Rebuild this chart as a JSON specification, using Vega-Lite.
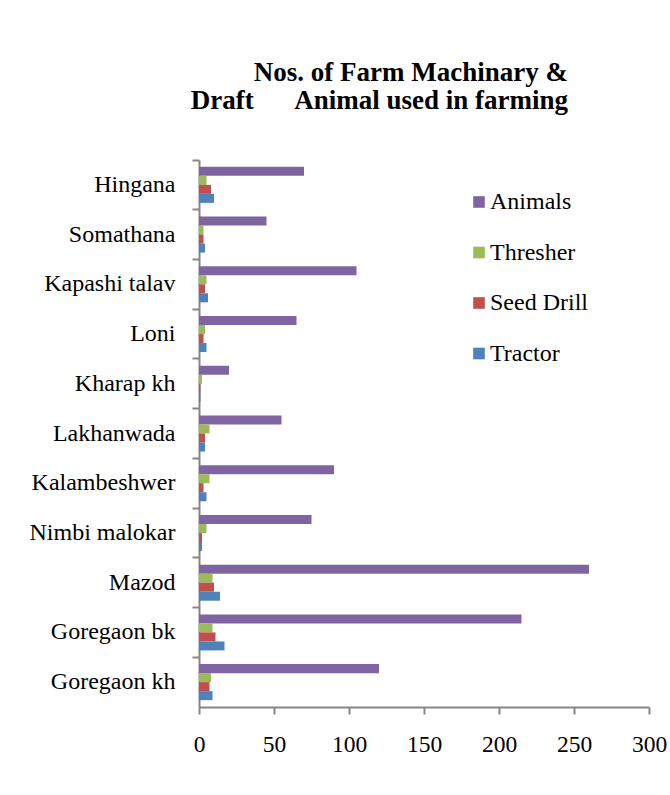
{
  "$schema": "https://vega.github.io/schema/vega-lite/v6.json",
  "autosize": {"type": "none"},
  "width": 450,
  "height": 547,
  "padding": {"left": 199, "top": 160, "right": 21, "bottom": 88},
  "background": "white",
  "title": {
    "text": ["Nos. of Farm Machinary &", "Draft\u00a0\u00a0\u00a0\u00a0\u00a0\u00a0Animal used in farming"],
    "font": "Liberation Serif",
    "fontSize": 27,
    "fontWeight": "bold",
    "color": "black",
    "anchor": "end",
    "align": "right",
    "frame": "group",
    "dx": -81,
    "offset": 44,
    "lineHeight": 28
  },
  "data": {
    "values": [
      {"village": "Hingana", "type": "Animals", "count": 70},
      {"village": "Hingana", "type": "Thresher", "count": 5},
      {"village": "Hingana", "type": "Seed Drill", "count": 8},
      {"village": "Hingana", "type": "Tractor", "count": 10},
      {"village": "Somathana", "type": "Animals", "count": 45},
      {"village": "Somathana", "type": "Thresher", "count": 3},
      {"village": "Somathana", "type": "Seed Drill", "count": 3},
      {"village": "Somathana", "type": "Tractor", "count": 4},
      {"village": "Kapashi talav", "type": "Animals", "count": 105},
      {"village": "Kapashi talav", "type": "Thresher", "count": 5},
      {"village": "Kapashi talav", "type": "Seed Drill", "count": 4},
      {"village": "Kapashi talav", "type": "Tractor", "count": 6},
      {"village": "Loni", "type": "Animals", "count": 65},
      {"village": "Loni", "type": "Thresher", "count": 4},
      {"village": "Loni", "type": "Seed Drill", "count": 3},
      {"village": "Loni", "type": "Tractor", "count": 5},
      {"village": "Kharap kh", "type": "Animals", "count": 20},
      {"village": "Kharap kh", "type": "Thresher", "count": 2},
      {"village": "Kharap kh", "type": "Seed Drill", "count": 1},
      {"village": "Kharap kh", "type": "Tractor", "count": 1},
      {"village": "Lakhanwada", "type": "Animals", "count": 55},
      {"village": "Lakhanwada", "type": "Thresher", "count": 7},
      {"village": "Lakhanwada", "type": "Seed Drill", "count": 4},
      {"village": "Lakhanwada", "type": "Tractor", "count": 4},
      {"village": "Kalambeshwer", "type": "Animals", "count": 90},
      {"village": "Kalambeshwer", "type": "Thresher", "count": 7},
      {"village": "Kalambeshwer", "type": "Seed Drill", "count": 3},
      {"village": "Kalambeshwer", "type": "Tractor", "count": 5},
      {"village": "Nimbi malokar", "type": "Animals", "count": 75},
      {"village": "Nimbi malokar", "type": "Thresher", "count": 5},
      {"village": "Nimbi malokar", "type": "Seed Drill", "count": 2},
      {"village": "Nimbi malokar", "type": "Tractor", "count": 2},
      {"village": "Mazod", "type": "Animals", "count": 260},
      {"village": "Mazod", "type": "Thresher", "count": 9},
      {"village": "Mazod", "type": "Seed Drill", "count": 10},
      {"village": "Mazod", "type": "Tractor", "count": 14},
      {"village": "Goregaon bk", "type": "Animals", "count": 215},
      {"village": "Goregaon bk", "type": "Thresher", "count": 9},
      {"village": "Goregaon bk", "type": "Seed Drill", "count": 11},
      {"village": "Goregaon bk", "type": "Tractor", "count": 17},
      {"village": "Goregaon kh", "type": "Animals", "count": 120},
      {"village": "Goregaon kh", "type": "Thresher", "count": 8},
      {"village": "Goregaon kh", "type": "Seed Drill", "count": 7},
      {"village": "Goregaon kh", "type": "Tractor", "count": 9}
    ]
  },
  "layer": [
    {
      "mark": {"type": "bar", "opacity": 0},
      "encoding": {
        "y": {
          "field": "village",
          "type": "nominal",
          "sort": ["Hingana", "Somathana", "Kapashi talav", "Loni", "Kharap kh", "Lakhanwada", "Kalambeshwer", "Nimbi malokar", "Mazod", "Goregaon bk", "Goregaon kh"],
          "scale": {"paddingInner": 0, "paddingOuter": 0},
          "axis": {
            "orient": "left",
            "title": null,
            "labels": false,
            "ticks": true,
            "bandPosition": 0,
            "tickSize": 7,
            "tickWidth": 2,
            "tickColor": "#868686",
            "domain": false,
            "grid": false
          }
        },
        "x": {
          "field": "count",
          "type": "quantitative",
          "scale": {"domain": [0, 300]},
          "axis": {
            "orient": "bottom",
            "title": null,
            "values": [0, 50, 100, 150, 200, 250, 300],
            "grid": false,
            "tickSize": 7,
            "tickWidth": 2,
            "tickColor": "#868686",
            "domainColor": "#868686",
            "domainWidth": 2,
            "labelPadding": 18,
            "labelFont": "Liberation Serif",
            "labelFontSize": 23.5,
            "labelColor": "black",
            "labelFlush": false
          }
        }
      }
    },
    {
      "mark": {"type": "bar"},
      "encoding": {
        "y": {
          "field": "village",
          "type": "nominal",
          "sort": ["Hingana", "Somathana", "Kapashi talav", "Loni", "Kharap kh", "Lakhanwada", "Kalambeshwer", "Nimbi malokar", "Mazod", "Goregaon bk", "Goregaon kh"],
          "scale": {"paddingInner": 0, "paddingOuter": 0},
          "axis": {
            "orient": "left",
            "title": null,
            "ticks": false,
            "labelPadding": 24,
            "labelFont": "Liberation Serif",
            "labelFontSize": 24,
            "labelColor": "black",
            "domain": true,
            "domainColor": "#868686",
            "domainWidth": 2,
            "grid": false
          }
        },
        "yOffset": {
          "field": "type",
          "type": "nominal",
          "sort": ["Animals", "Thresher", "Seed Drill", "Tractor"],
          "scale": {"paddingInner": 0, "paddingOuter": 0.76}
        },
        "x": {
          "field": "count",
          "type": "quantitative",
          "scale": {"domain": [0, 300]},
          "axis": {
            "orient": "bottom",
            "title": null,
            "values": [0, 50, 100, 150, 200, 250, 300],
            "grid": false,
            "tickSize": 7,
            "tickWidth": 2,
            "tickColor": "#868686",
            "domainColor": "#868686",
            "domainWidth": 2,
            "labelPadding": 18,
            "labelFont": "Liberation Serif",
            "labelFontSize": 23.5,
            "labelColor": "black",
            "labelFlush": false
          }
        },
        "color": {
          "field": "type",
          "type": "nominal",
          "scale": {
            "domain": ["Animals", "Thresher", "Seed Drill", "Tractor"],
            "range": ["#8064A2", "#9BBB59", "#C0504D", "#4F81BD"]
          },
          "legend": {
            "title": null,
            "orient": "none",
            "legendX": 268,
            "legendY": 30,
            "padding": 0,
            "symbolType": "square",
            "symbolSize": 135,
            "symbolStrokeWidth": 0,
            "symbolOpacity": 1,
            "labelFont": "Liberation Serif",
            "labelFontSize": 24,
            "labelColor": "black",
            "labelOffset": -1,
            "rowPadding": 26.5
          }
        }
      }
    }
  ],
  "resolve": {"axis": {"y": "independent"}},
  "config": {
    "view": {"stroke": null},
    "axis": {"labelFont": "Liberation Serif"},
    "legend": {"labelFont": "Liberation Serif", "symbolSize": 135}
  }
}
